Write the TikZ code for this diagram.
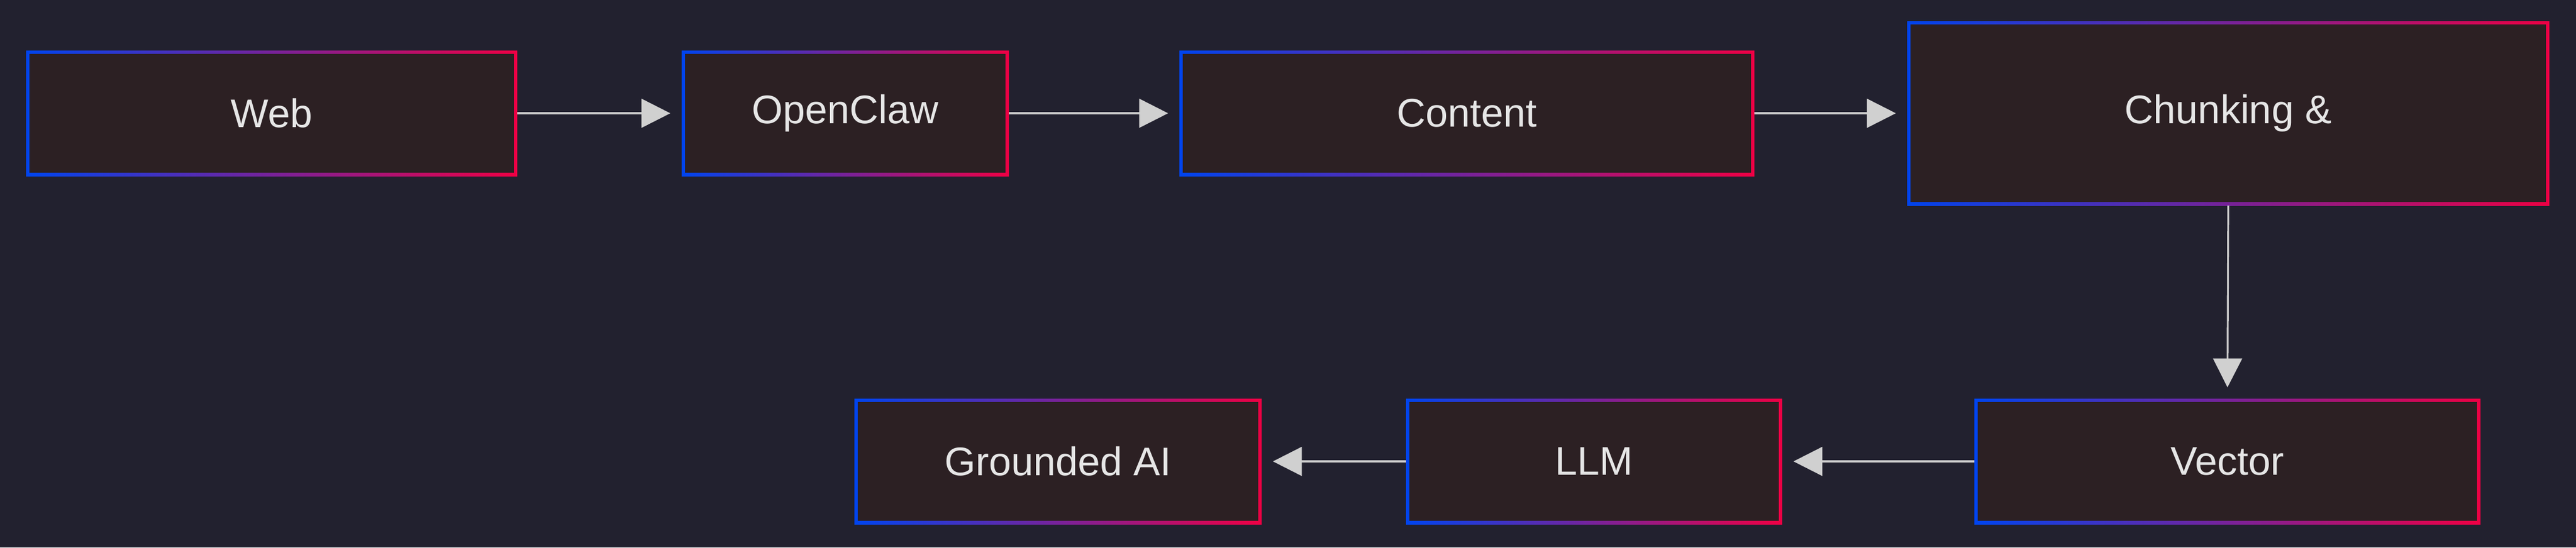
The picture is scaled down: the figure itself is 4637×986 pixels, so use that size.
\documentclass[tikz,border=0pt]{standalone}
\usepackage{fontspec}
\setmainfont{Liberation Sans}
\usetikzlibrary{arrows.meta,calc}
\definecolor{bg}{HTML}{22212F}
\definecolor{boxfill}{HTML}{2C2023}
\definecolor{gblue}{HTML}{0044EE}
\definecolor{gred}{HTML}{EE0044}
\definecolor{txt}{HTML}{E6E6E6}
\definecolor{arr}{HTML}{D0D0D0}
\tikzset{
  box/.style={inner sep=0pt, text=txt, font=\fontsize{36}{40}\selectfont},
  conn/.style={draw=arr, line width=1.6pt, -{Triangle[length=26,width=26]}, shorten >=10}
}
\newcommand{\gbox}[6]{%
  \shade[left color=gblue,right color=gred] (#2,-#3) rectangle (#4,-#5);
  \fill[boxfill] ({#2+6},{-#3-6}) rectangle ({#4-6},{-#5+6});
  \node[box, minimum width={(#4-#2)*0.5pt}, minimum height={(#5-#3)*0.5pt}] (#1) at ({(#2+#4)/2},{-(#3+#5)/2}) {#6};
}
\begin{document}
\begin{tikzpicture}[x=0.5pt,y=0.5pt]
\fill[bg] (0,0) rectangle (4637,-986);
\useasboundingbox (0,0) rectangle (4637,-986);
\gbox{web}{47}{91}{931}{317}{Web}
\gbox{oc}{1227}{91}{1816}{317}{OpenClaw}
\gbox{content}{2123}{91}{3158}{317}{Content}
\gbox{chunk}{3433}{38}{4589}{370}{Chunking \&}
\gbox{vector}{3554}{718}{4465}{944}{Vector}
\gbox{llm}{2531}{718}{3208}{944}{LLM}
\gbox{ground}{1538}{718}{2271}{944}{Grounded AI}
\draw[conn] (web.east) -- (oc.west);
\draw[conn] (oc.east) -- (content.west);
\draw[conn] (content.east) -- (chunk.west);
\draw[conn] (chunk.south) -- (vector.north);
\draw[conn] (vector.west) -- (llm.east);
\draw[conn] (llm.west) -- (ground.east);
\end{tikzpicture}
\end{document}
